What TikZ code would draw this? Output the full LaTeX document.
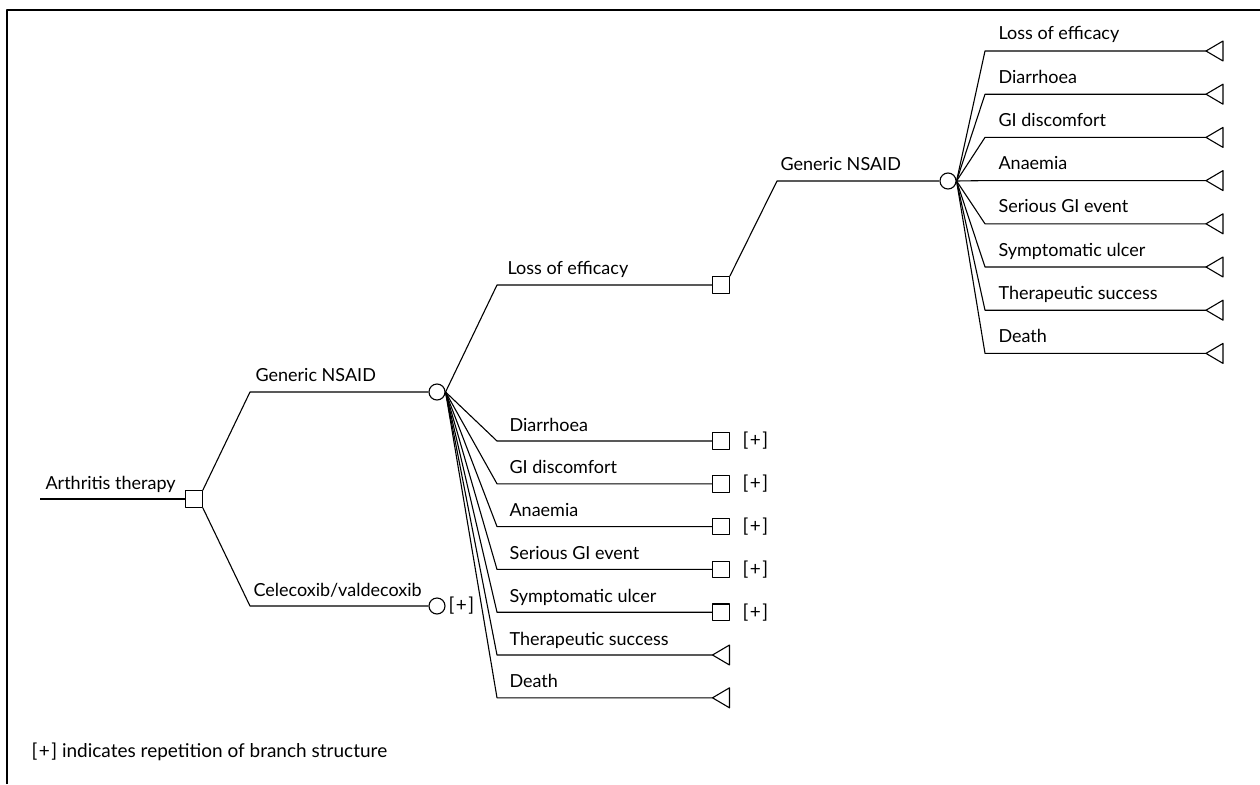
\documentclass[tikz,border=0pt]{standalone}
\usepackage{fontspec}
\setmainfont{Lato}
\newcommand{\repmark}{[\kern1.5pt+\kern1.5pt]}
\begin{document}
\begin{tikzpicture}[x=1pt,y=-1pt,
  line width=1.1pt, line join=round,
  every node/.style={inner sep=0pt},
  lbl/.style={anchor=base west, font=\fontsize{18}{22}\selectfont},
  rep/.style={anchor=west, font=\fontsize{19}{22}\selectfont},
  decision/.style={draw, rectangle, minimum size=16.5pt},
  chance/.style={draw, circle, minimum size=16pt},
  term/.pic={\draw (0,0) -- (17,-10) -- (17,10) -- cycle;}
]
\useasboundingbox (0,0) rectangle (1260,784);
% frame (top and left edges)
\draw[line width=2pt] (7,784) -- (7,10) -- (1260,10);

% x positions of the branch elbows
\coordinate (xa) at (250,0);
\coordinate (xb) at (497,0);
\coordinate (xc) at (777,0);
\coordinate (xd) at (985,0);

% root
\coordinate (r0) at (40,499);
\node[decision] (dec1) at (194,499) {};
\draw (r0) -- (dec1.west);
\node[lbl] (lroot) at (45,489) {Arthritis therapy};

% first choice
\node[chance] (ch1) at (437,392) {};
\node[chance] (ch2) at (437,606) {};
\draw (dec1.north east) -- (ch1.west -| xa) -- (ch1.west);
\draw (dec1.south east) -- (ch2.west -| xa) -- (ch2.west);
\node[lbl] (lg1) at (255,381) {Generic NSAID};
\node[lbl] (lc1) at (253,596) {Celecoxib/valdecoxib};
\node[rep] (pc) at (448,606) {\repmark};

% outcomes of generic NSAID
\node[decision] (dloss) at (721,285) {};
\draw (ch1.east) -- (dloss.west -| xb) -- (dloss.west);
\node[lbl] (lloss) at (507,274) {Loss of efficacy};

\foreach \i/\txt [count=\k from 0] in {dia/Diarrhoea,gid/GI discomfort,ana/Anaemia,sgi/Serious GI event,sul/Symptomatic ulcer}{
  \node[decision] (d\i) at (721,{441+42.8*\k}) {};
  \draw (ch1.east) -- (d\i.west -| xb) -- (d\i.west);
  \node[lbl] (l\i) at (509,{431+42.8*\k}) {\txt};
  \node[rep] (p\i) at (742,{441+42.8*\k}) {\repmark};
}
\foreach \i/\txt [count=\k from 5] in {ts/Therapeutic success,de/Death}{
  \coordinate (t\i) at (712.5,{441+42.8*\k});
  \pic at (t\i) {term};
  \draw (ch1.east) -- (t\i -| xb) -- (t\i);
  \node[lbl] (l\i) at (509,{431+42.8*\k}) {\txt};
}

% second generic NSAID after loss of efficacy
\node[chance] (ch3) at (948,181) {};
\draw (dloss.north east) -- (ch3.west -| xc) -- (ch3.west);
\node[lbl] (lg2) at (780,170) {Generic NSAID};

\foreach \i/\txt [count=\k from 0] in {loss/Loss of efficacy,dia/Diarrhoea,gid/GI discomfort,ana/Anaemia,sgi/Serious GI event,sul/Symptomatic ulcer,ts/Therapeutic success,de/Death}{
  \coordinate (u\i) at (1206,{51+43.2*\k});
  \pic at (u\i) {term};
  \draw (ch3.east) -- (u\i -| xd) -- (u\i);
  \node[lbl] (m\i) at (998,{40+43.2*\k}) {\txt};
}

% legend
\node[lbl, font=\fontsize{19}{22}\selectfont] (legend) at (31,757) {\repmark{} indicates repetition of branch structure};
\end{tikzpicture}
\end{document}
